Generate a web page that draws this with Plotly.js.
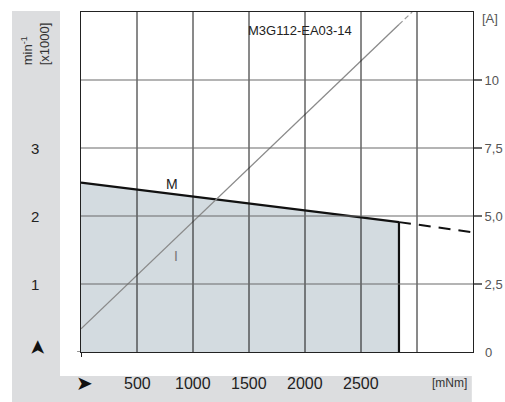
<!DOCTYPE html>
<html>
<head>
<meta charset="utf-8">
<script src="https://cdn.plot.ly/plotly-3.0.1.min.js"></script>
<style>html,body{margin:0;padding:0;background:#fff;}#chart{width:505px;height:402px;}</style>
</head>
<body>
<div id="chart"></div>
<script>
// Torque [mNm] vs speed [min-1 x1000] (M curve)
const torqueM = [0, 500, 1000, 1500, 2000, 2500, 2839];
const speedM  = [2.49, 2.39, 2.29, 2.19, 2.08, 1.98, 1.91];
// M curve extrapolation (dashed)
const torqueMExt = [2839, 3500];
const speedMExt  = [1.91, 1.76];
// Current [A] (I curve)
const torqueI = [0, 2839];
const currentI = [0.85, 12.04];
const torqueIExt = [2839, 2957];
const currentIExt = [12.04, 12.5];
// Tick labels / grid values
const xTickVals = [500, 1000, 1500, 2000, 2500];
const xGridVals = [500, 1000, 1500, 2000, 2500, 3000];
const leftTickVals = [1, 2, 3];
const yGridVals = [1, 2, 3, 4];
const rightTickVals = [2.5, 5, 7.5, 10];
const rightTickText = ["2,5", "5,0", "7,5", "10"];
const modelName = "M3G112-EA03-14";

const FONT = "Liberation Sans, Arial, Helvetica, sans-serif";
const X_MAX = 3500, Y_MAX = 5;

const traces = [
  {x: torqueM, y: speedM, type: 'scatter', mode: 'lines', fill: 'tozeroy',
   fillcolor: '#d3dbe0', line: {color: '#111', width: 2.2}, hoverinfo: 'none'},
  {x: [torqueM[torqueM.length-1], torqueM[torqueM.length-1]], y: [speedM[speedM.length-1], 0],
   type: 'scatter', mode: 'lines', line: {color: '#111', width: 2.2}, hoverinfo: 'none'},
  {x: torqueMExt, y: speedMExt, type: 'scatter', mode: 'lines',
   line: {color: '#111', width: 2, dash: '12px,8px'}, hoverinfo: 'none'},
  {x: torqueI, y: currentI, yaxis: 'y2', type: 'scatter', mode: 'lines',
   line: {color: '#8a8a8a', width: 1.3}, hoverinfo: 'none'},
  {x: torqueIExt, y: currentIExt, yaxis: 'y2', type: 'scatter', mode: 'lines',
   line: {color: '#9a9a9a', width: 1.2, dash: '5px,3px'}, hoverinfo: 'none'}
];

const shapes = [
  {type: 'rect', xref: 'paper', yref: 'paper', x0: -0.176, x1: -0.0536, y0: -0.147, y1: 1.003,
   fillcolor: '#dcdddf', line: {width: 0}, layer: 'below'},
  {type: 'rect', xref: 'paper', yref: 'paper', x0: -0.176, x1: 0.997, y0: -0.147, y1: -0.0706,
   fillcolor: '#dcdddf', line: {width: 0}, layer: 'below'}
];
// grid lines drawn above the filled area, as in the reference
xGridVals.forEach(v => shapes.push({type: 'line', xref: 'x', yref: 'y', x0: v, x1: v, y0: 0, y1: Y_MAX,
  line: {color: '#151515', width: 1}, layer: 'above'}));
yGridVals.forEach(v => shapes.push({type: 'line', xref: 'x', yref: 'y', x0: 0, x1: X_MAX, y0: v, y1: v,
  line: {color: '#6a6a6a', width: 1.2}, layer: 'above'}));
// short stub of the x axis line left of the origin
shapes.push({type: 'line', xref: 'paper', yref: 'y', x0: -0.01, x1: 0, y0: 0, y1: 0, line: {color: '#222', width: 1}});

const annotations = [];
leftTickVals.forEach(v => annotations.push({
  text: String(v), xref: 'paper', yref: 'y', x: -0.1173, y: v,
  xanchor: 'center', yanchor: 'middle', showarrow: false,
  font: {family: FONT, size: 15, color: '#222'}
}));
xTickVals.forEach(v => annotations.push({
  text: String(v), xref: 'x', yref: 'paper', x: v, y: -0.0912,
  xanchor: 'center', yanchor: 'middle', showarrow: false,
  font: {family: FONT, size: 16, color: '#222'}
}));
annotations.push(
  {text: '➤', xref: 'paper', yref: 'paper', x: 0.0102, y: -0.0912, xanchor: 'center', yanchor: 'middle',
   showarrow: false, font: {family: 'DejaVu Sans', size: 20, color: '#111'}},
  {text: '➤', textangle: -90, xref: 'paper', yref: 'paper', x: -0.112, y: 0.0118, xanchor: 'center', yanchor: 'middle',
   showarrow: false, font: {family: 'DejaVu Sans', size: 20, color: '#111'}},
  {text: '[mNm]', xref: 'paper', yref: 'paper', x: 0.941, y: -0.0912, xanchor: 'center', yanchor: 'middle',
   showarrow: false, font: {family: FONT, size: 12, color: '#333'}},
  {text: 'min<sup>-1</sup><br>[x1000]', textangle: -90, align: 'left', xref: 'paper', yref: 'paper',
   x: -0.1173, y: 0.905, xanchor: 'center', yanchor: 'middle', showarrow: false,
   font: {family: FONT, size: 13, color: '#333'}},
  {text: modelName, xref: 'paper', yref: 'paper', x: 0.559, y: 0.947, xanchor: 'center', yanchor: 'middle',
   showarrow: false, font: {family: FONT, size: 13, color: '#222'}},
  {text: '[A]', xref: 'paper', yref: 'paper', x: 1.043, y: 0.982, xanchor: 'center', yanchor: 'middle',
   showarrow: false, font: {family: FONT, size: 13, color: '#555'}},
  {text: 'M', xref: 'x', yref: 'y', x: 812, y: 2.47, xanchor: 'center', yanchor: 'middle',
   showarrow: false, font: {family: FONT, size: 14, color: '#222'}},
  {text: 'I', xref: 'x', yref: 'y', x: 848, y: 1.41, xanchor: 'center', yanchor: 'middle',
   showarrow: false, font: {family: FONT, size: 14, color: '#777'}},
  {text: '0', xref: 'paper', yref: 'y2', x: 1.0255, y: 0, xanchor: 'left', yanchor: 'middle',
   showarrow: false, font: {family: FONT, size: 13, color: '#555'}}
);

const layout = {
  width: 505, height: 402,
  margin: {l: 81, r: 32, t: 12, b: 50, pad: 0},
  paper_bgcolor: '#fff', plot_bgcolor: '#fff',
  showlegend: false,
  xaxis: {range: [0, X_MAX], showticklabels: false, tickvals: [0], ticks: 'outside', ticklen: 4, tickcolor: '#222',
          showgrid: false, zeroline: false,
          showline: true, linecolor: '#222', linewidth: 1, mirror: true, fixedrange: true},
  yaxis: {range: [0, Y_MAX], showticklabels: false, ticks: '',
          showgrid: false, zeroline: false,
          showline: true, linecolor: '#222', linewidth: 1, mirror: true, fixedrange: true},
  yaxis2: {range: [0, 12.5], overlaying: 'y', side: 'right', tickvals: rightTickVals, ticktext: rightTickText,
           ticks: 'outside', ticklen: 8, tickcolor: '#6a6a6a', tickwidth: 1.2, showgrid: false, zeroline: false,
           showline: false, tickfont: {family: FONT, size: 13, color: '#555'}, fixedrange: true},
  shapes: shapes,
  annotations: annotations
};

Plotly.newPlot('chart', traces, layout, {displayModeBar: false, staticPlot: true});
</script>
</body>
</html>
